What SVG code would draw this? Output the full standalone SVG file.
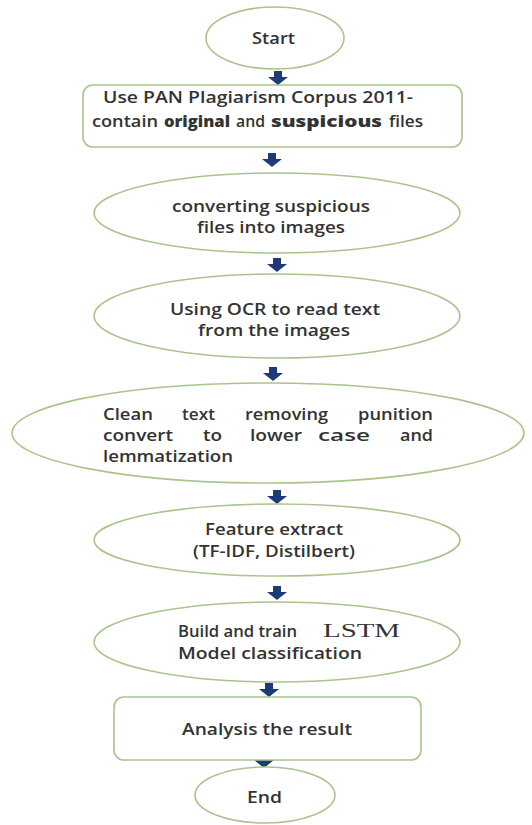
<svg xmlns="http://www.w3.org/2000/svg" width="532" height="825" viewBox="0 0 532 825">
<style>
.shape{fill:#fff;stroke:#a9c58c;stroke-width:1.6}
.t{font-family:"Open Sans","Liberation Sans",sans-serif;font-size:16px;font-weight:600;fill:#333}
.b{font-weight:800}
.lstm{font-family:"Liberation Serif","Times New Roman",serif;font-size:19px;fill:#333}
.ar{fill:#1f3a78}
</style>
<defs>
<path id="arrow" d="M-4,0 H4 V6 H10 L0,14 L-10,6 H-4 Z"/>
</defs>
<rect width="532" height="825" fill="#fff"/>
<g id="connectors" class="ar">
<use href="#arrow" x="278" y="71"/>
<use href="#arrow" x="272" y="153"/>
<use href="#arrow" x="277" y="258"/>
<use href="#arrow" x="273" y="367"/>
<use href="#arrow" x="277" y="490"/>
<use href="#arrow" x="277" y="586"/>
<use href="#arrow" x="269" y="683"/>
<use href="#arrow" x="264" y="754"/>
</g>
<g id="start">
<ellipse class="shape" cx="275" cy="38" rx="69" ry="31"/>
<text class="t" x="252" y="44" textLength="43" lengthAdjust="spacingAndGlyphs">Start</text>
</g>
<g id="corpus">
<rect class="shape" x="83" y="85" width="379" height="62" rx="10"/>
<text class="t" x="103" y="103" textLength="310" lengthAdjust="spacingAndGlyphs">Use PAN Plagiarism Corpus 2011-</text>
<text class="t" x="92" y="127" textLength="66" lengthAdjust="spacingAndGlyphs">contain</text>
<text class="t b" x="164" y="127" textLength="66" lengthAdjust="spacingAndGlyphs">original</text>
<text class="t" x="236" y="127" textLength="29" lengthAdjust="spacingAndGlyphs">and</text>
<text class="t b" x="271" y="127" textLength="111" lengthAdjust="spacingAndGlyphs">suspicious</text>
<text class="t" x="389" y="127" textLength="34" lengthAdjust="spacingAndGlyphs">files</text>
</g>
<g id="convert">
<ellipse class="shape" cx="277" cy="213" rx="183" ry="40"/>
<text class="t" x="172" y="212" textLength="198" lengthAdjust="spacingAndGlyphs">converting suspicious</text>
<text class="t" x="197" y="233" textLength="148" lengthAdjust="spacingAndGlyphs">files into images</text>
</g>
<g id="ocr">
<ellipse class="shape" cx="277" cy="316" rx="183" ry="42"/>
<text class="t" x="170" y="315" textLength="210" lengthAdjust="spacingAndGlyphs">Using OCR to read text</text>
<text class="t" x="198" y="336" textLength="152" lengthAdjust="spacingAndGlyphs">from the images</text>
</g>
<g id="clean">
<ellipse class="shape" cx="268" cy="433" rx="256" ry="50"/>
<text class="t" x="103" y="420" textLength="50" lengthAdjust="spacingAndGlyphs">Clean</text>
<text class="t" x="182" y="420" textLength="33" lengthAdjust="spacingAndGlyphs">text</text>
<text class="t" x="245" y="420" textLength="83" lengthAdjust="spacingAndGlyphs">removing</text>
<text class="t" x="358" y="420" textLength="75" lengthAdjust="spacingAndGlyphs">punition</text>
<text class="t" x="103" y="441" textLength="70" lengthAdjust="spacingAndGlyphs">convert</text>
<text class="t" x="203" y="441" textLength="19" lengthAdjust="spacingAndGlyphs">to</text>
<text class="t" x="250" y="441" textLength="52" lengthAdjust="spacingAndGlyphs">lower</text>
<text class="t" x="318" y="441" textLength="52" lengthAdjust="spacingAndGlyphs">case</text>
<text class="t" x="400" y="441" textLength="33" lengthAdjust="spacingAndGlyphs">and</text>
<text class="t" x="103" y="462" textLength="130" lengthAdjust="spacingAndGlyphs">lemmatization</text>
</g>
<g id="feature">
<ellipse class="shape" cx="277" cy="540" rx="183" ry="36"/>
<text class="t" x="205" y="535" textLength="138" lengthAdjust="spacingAndGlyphs">Feature extract</text>
<text class="t" x="193" y="557" textLength="162" lengthAdjust="spacingAndGlyphs">(TF-IDF, Distilbert)</text>
</g>
<g id="lstm-model">
<ellipse class="shape" cx="277" cy="642" rx="183" ry="40"/>
<text class="t" x="178" y="637" textLength="119" lengthAdjust="spacingAndGlyphs">Build and train</text>
<text class="lstm" x="323" y="637" textLength="77" lengthAdjust="spacingAndGlyphs">LSTM</text>
<text class="t" x="178" y="659" textLength="184" lengthAdjust="spacingAndGlyphs">Model classification</text>
</g>
<g id="analysis">
<rect class="shape" x="114" y="697" width="307" height="63" rx="10"/>
<text class="t" x="182" y="735" textLength="170" lengthAdjust="spacingAndGlyphs">Analysis the result</text>
</g>
<g id="end">
<ellipse class="shape" cx="265" cy="795" rx="70" ry="28"/>
<text class="t" x="247" y="803" textLength="35" lengthAdjust="spacingAndGlyphs">End</text>
</g>
</svg>
